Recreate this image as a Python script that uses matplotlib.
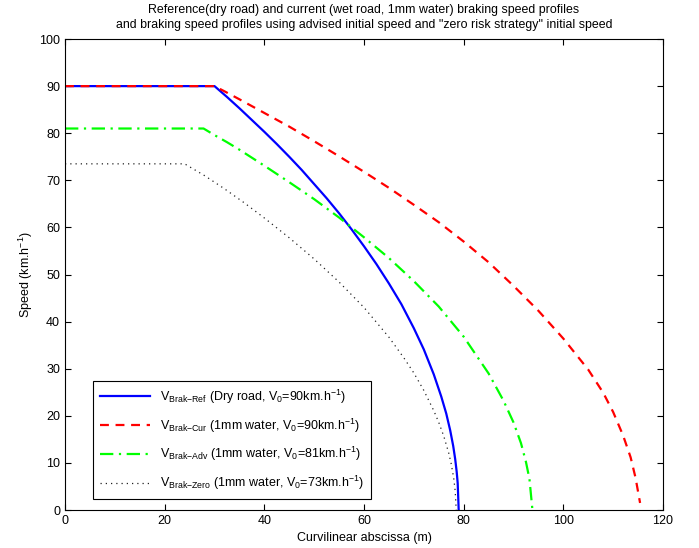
import matplotlib

matplotlib.use("Agg")
import matplotlib.pyplot as plt  # noqa: E402

plt.rcParams["font.family"] = ["Liberation Sans", "DejaVu Sans"]
plt.rcParams["mathtext.fontset"] = "custom"
plt.rcParams["mathtext.rm"] = "Liberation Sans"
plt.rcParams["mathtext.it"] = "Liberation Sans"

# values
ref_x = [0, 30, 32.5, 35, 37.5, 40, 42.5, 45, 47.5, 50, 52.5, 55, 57.5, 60, 62.5, 65,
         67.5, 70, 72, 74, 75.5, 76.5, 77.3, 77.9, 78.3, 78.6, 78.8, 79]
ref_v = [90, 90, 87.7, 85.3, 82.8, 80.3, 77.7, 75.0, 72.2, 69.2, 66.2, 63.0, 59.6, 56.0,
         52.2, 48.1, 43.7, 38.6, 34.1, 28.8, 24.1, 20.5, 16.9, 13.6, 10.8, 8.1, 5.7, 0]

cur_x = [0, 30, 32, 35, 40, 45, 50, 55, 60, 65, 70, 75, 80, 85, 90, 95, 100, 105, 108,
         110, 112, 113.5, 114.5, 115.4]
cur_v = [90, 90, 88.9, 87.2, 84.3, 81.4, 78.3, 75.1, 71.8, 68.4, 64.8, 61.1, 57.0, 52.6,
         47.6, 42.3, 36.4, 29.8, 24.9, 20.8, 15.8, 11.2, 6.8, 1.5]

adv_x = [0, 27.8, 30, 32.5, 35, 40, 45, 50, 55, 60, 65, 70, 75, 80, 85, 88, 90, 91.5,
         92.5, 93.2, 93.8]
adv_v = [81, 81, 79.6, 78.1, 76.5, 73.1, 69.6, 66.0, 62.1, 57.9, 53.5, 48.6, 43.2, 36.8,
         29.0, 23.2, 18.6, 14.2, 10.2, 6.6, 0]

zero_x = [0, 24, 28, 32, 36, 40, 45, 50, 55, 60, 65, 68, 70, 72, 74, 75, 76, 77, 77.5,
          78, 78.3, 78.5]
zero_v = [73.5, 73.5, 71.0, 68.2, 65.2, 62.0, 57.8, 53.3, 48.4, 43.0, 36.7, 32.3, 29.1,
          25.4, 21.1, 18.6, 15.7, 12.1, 9.8, 6.8, 4.0, 0]

labels = [
    r"$\mathrm{V_{Brak{-}Ref}}$ (Dry road, $\mathrm{V_0}$=90km.h$^{-1}$)",
    r"$\mathrm{V_{Brak{-}Cur}}$ (1mm water, $\mathrm{V_0}$=90km.h$^{-1}$)",
    r"$\mathrm{V_{Brak{-}Adv}}$ (1mm water, $\mathrm{V_0}$=81km.h$^{-1}$)",
    r"$\mathrm{V_{Brak{-}Zero}}$ (1mm water, $\mathrm{V_0}$=73km.h$^{-1}$)",
]

fig = plt.figure(figsize=(6.99, 5.48), dpi=100)
ax = fig.add_axes([0.093, 0.0693, 0.8555, 0.8595])

ax.plot(ref_x, ref_v, color="#0000ff", lw=1.6, label=labels[0])
ax.plot(cur_x, cur_v, color="#ff0000", lw=1.6, dashes=(4, 3), label=labels[1])
ax.plot(adv_x, adv_v, color="#00ff00", lw=1.6, dashes=(6, 2.5, 1, 2.5), label=labels[2])
ax.plot(zero_x, zero_v, color="#222222", lw=0.9, dashes=(1, 3.2), label=labels[3])

ax.set_xlim(0, 120)
ax.set_ylim(0, 100)
ax.set_xticks(range(0, 121, 20))
ax.set_yticks(range(0, 101, 10))
ax.tick_params(direction="in", top=True, right=True, labelsize=9, length=4, width=0.8)
for s in ax.spines.values():
    s.set_linewidth(0.8)

ax.set_xlabel("Curvilinear abscissa (m)", fontsize=9, labelpad=4)
ax.set_ylabel(r"Speed (km.h$^{-1}$)", fontsize=9, labelpad=3)
ax.set_title("Reference(dry road) and current (wet road, 1mm water) braking speed profiles\n"
             "and braking speed profiles using advised initial speed and \"zero risk strategy\" initial speed",
             fontsize=8.9, pad=8, linespacing=1.3)

leg = ax.legend(loc="lower left", bbox_to_anchor=(0.047, 0.023), borderaxespad=0,
                fontsize=9, handlelength=4.0, labelspacing=0.85, borderpad=0.55,
                fancybox=False, framealpha=1, edgecolor="black")
leg.get_frame().set_linewidth(0.8)

fig.savefig("out.png", dpi=100)
